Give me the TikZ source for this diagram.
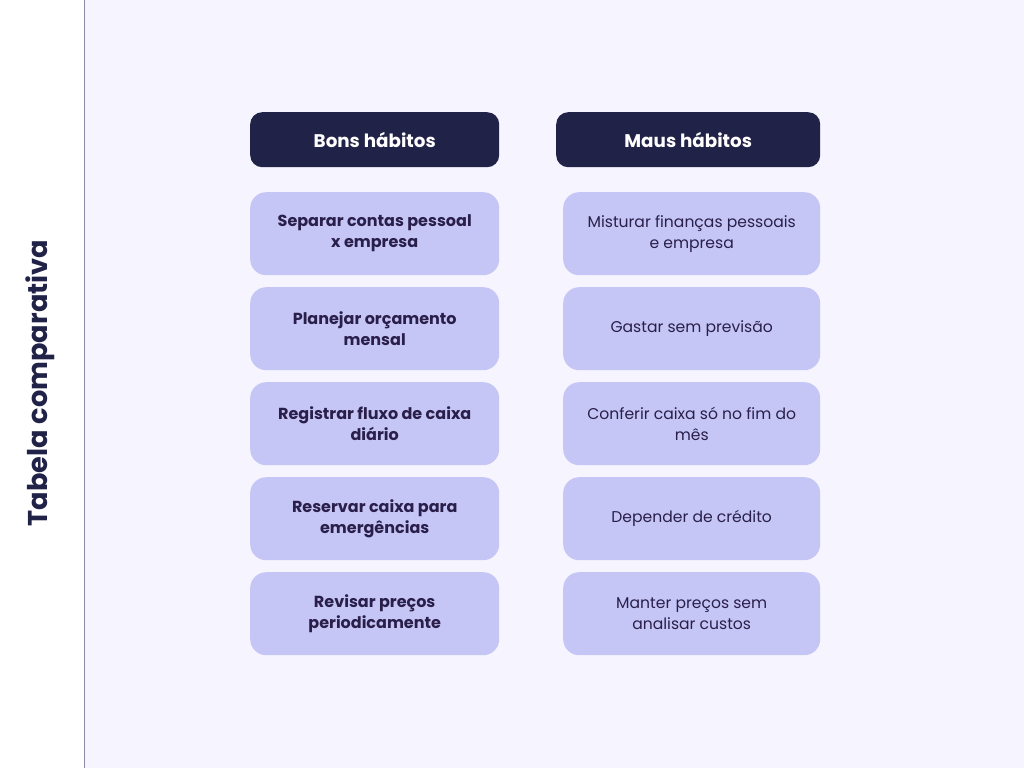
\documentclass[tikz,border=0pt]{standalone}
\usepackage{fontspec}
\setmainfont{Poppins}
\definecolor{bgc}{HTML}{F6F4FE}
\definecolor{hdr}{HTML}{212247}
\definecolor{item}{HTML}{C5C6F5}
\definecolor{txt}{HTML}{2A1F4A}
\definecolor{linec}{HTML}{8A88AA}
\tikzset{
  hdrbox/.style={fill=hdr, rounded corners=12pt, text=white, font=\fontsize{18.3}{22}\selectfont\bfseries, anchor=north west, inner sep=0pt, align=center},
  itembox/.style={fill=item, rounded corners=16pt, text=txt, anchor=north west, inner sep=0pt, align=center},
  goodtxt/.style={font=\fontsize{16}{21}\selectfont\bfseries},
  badtxt/.style={font=\fontsize{15.6}{21}\selectfont},
}
\begin{document}
\begin{tikzpicture}[x=1pt,y=-1pt]
\useasboundingbox (0,0) rectangle (1024,768);
\fill[bgc] (0,0) rectangle (1024,768);
\fill[white] (0,0) rectangle (84,768);
\draw[linec, line width=1pt] (84.5,0) -- (84.5,768);
\node[rotate=90, text=hdr, font=\fontsize{27.2}{32}\selectfont\bfseries] (title) at (40,383) {Tabela comparativa};
\node[hdrbox, minimum width=249pt, minimum height=55pt] (h1) at (250,112) {Bons hábitos};
\node[hdrbox, minimum width=264pt, minimum height=55pt] (h2) at (556,112) {Maus hábitos};
\foreach \i/\a/\b in {0/{Separar contas pessoal\\x empresa}/{Misturar finanças pessoais\\e empresa},
                      1/{Planejar orçamento\\mensal}/{Gastar sem previsão},
                      2/{Registrar fluxo de caixa\\diário}/{Conferir caixa só no fim do\\mês},
                      3/{Reservar caixa para\\emergências}/{Depender de crédito},
                      4/{Revisar preços\\periodicamente}/{Manter preços sem\\analisar custos}} {
  \node[itembox, goodtxt, minimum width=249pt, minimum height=83pt] (g\i) at (250,192+95*\i) {\a};
  \node[itembox, badtxt, minimum width=257pt, minimum height=83pt] (b\i) at (563,192+95*\i) {\b};
}
\end{tikzpicture}
\end{document}
